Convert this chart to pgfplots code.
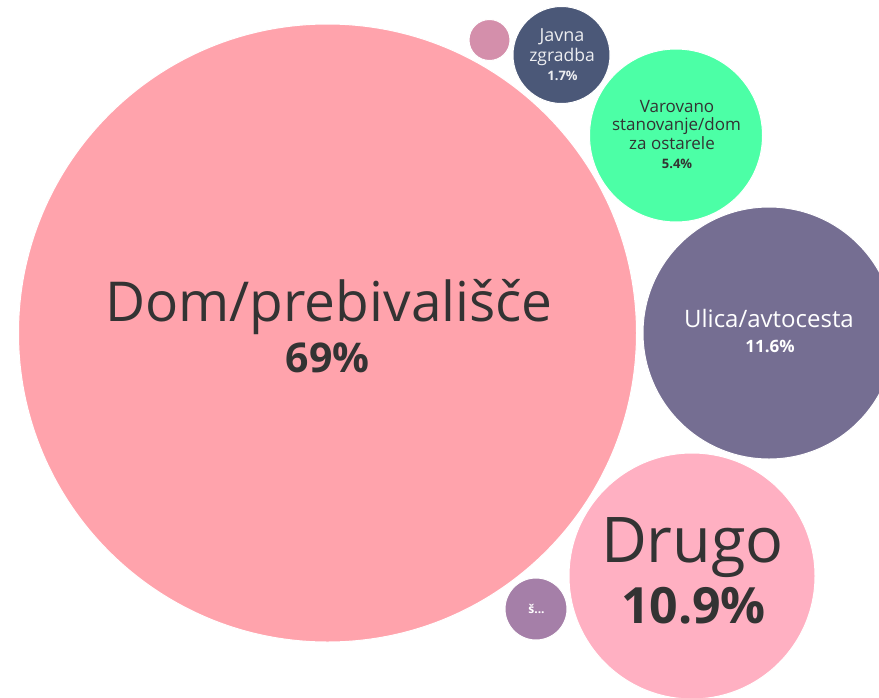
\documentclass[border=0pt]{standalone}
\usepackage{fontspec}
\setmainfont{Open Sans}
\usepackage{pgfplots}
\pgfplotsset{compat=1.18}
\definecolor{cDom}{HTML}{FFA3AC}
\definecolor{cDrugo}{HTML}{FFB0C2}
\definecolor{cUlica}{HTML}{756E92}
\definecolor{cVar}{HTML}{4CFFA6}
\definecolor{cJavna}{HTML}{4B5878}
\definecolor{cSmall}{HTML}{D48FAB}
\definecolor{cS}{HTML}{A57FA8}
\definecolor{txt}{HTML}{333333}
\pgfplotsset{bubble/.style={scatter, only marks, mark=*, point meta=\thisrow{r},
  scatter/use mapped color={draw=white, fill=#1},
  visualization depends on={\thisrow{r}\as\rad},
  scatter/@pre marker code/.append style={/tikz/mark size=\rad},
  line width=1pt}}
\newcommand{\fs}[1]{\fontsize{#1}{#1}\selectfont}
\begin{document}
\begin{tikzpicture}
\begin{axis}[width=879pt, height=697pt, scale only axis, hide axis,
  xmin=0, xmax=879, ymin=0, ymax=697, y dir=reverse, clip=true]
\addplot[bubble=cDom] table[row sep=\\]{x y r\\ 327.5 333 309\\};
\addplot[bubble=cUlica] table[row sep=\\]{x y r\\ 769 333 126\\};
\addplot[bubble=cDrugo] table[row sep=\\]{x y r\\ 692 576 123\\};
\addplot[bubble=cVar] table[row sep=\\]{x y r\\ 676 135.5 86.5\\};
\addplot[bubble=cJavna] table[row sep=\\]{x y r\\ 561.5 55 48.5\\};
\addplot[bubble=cSmall] table[row sep=\\]{x y r\\ 489.5 40 20.5\\};
\addplot[bubble=cS] table[row sep=\\]{x y r\\ 536 609 31\\};
% label anchors
\coordinate (l1) at (axis cs:329,322);
\coordinate (l2) at (axis cs:327.5,373);
\coordinate (l3) at (axis cs:692.5,562);
\coordinate (l4) at (axis cs:693.5,623);
\coordinate (l5) at (axis cs:769,328);
\coordinate (l6) at (axis cs:770,353);
\coordinate (l7) at (axis cs:562,42);
\coordinate (l8) at (axis cs:562,62);
\coordinate (l9) at (axis cs:562.5,81);
\coordinate (l10) at (axis cs:677,113);
\coordinate (l11) at (axis cs:676.5,131);
\coordinate (l12) at (axis cs:672,150);
\coordinate (l13) at (axis cs:677,169);
\coordinate (l14) at (axis cs:536.5,613);
\end{axis}
\begin{scope}[every node/.style={anchor=base, inner sep=0pt}]
\node[text=txt] at (l1) {\fs{55}Dom/prebivališče};
\node[text=txt] at (l2) {\fs{41}\bfseries 69\%};
\node[text=txt] at (l3) {\fs{63}Drugo};
\node[text=txt] at (l4) {\fs{50}\bfseries 10.9\%};
\node[text=white] at (l5) {\fs{24}Ulica/avtocesta};
\node[text=white] at (l6) {\fs{17}\bfseries 11.6\%};
\node[text=white!90!cJavna] at (l7) {\fs{18}Javna};
\node[text=white!90!cJavna] at (l8) {\fs{17.5}zgradba};
\node[text=white!90!cJavna] at (l9) {\fs{13}\bfseries 1.7\%};
\node[text=txt] at (l10) {\fs{17}Varovano};
\node[text=txt] at (l11) {\fs{17}stanovanje/dom};
\node[text=txt] at (l12) {\fs{17}za ostarele};
\node[text=txt] at (l13) {\fs{13}\bfseries 5.4\%};
\node[text=white] at (l14) {\fs{12}\bfseries š...};
\end{scope}
\pgfresetboundingbox
\useasboundingbox (current axis.south west) rectangle (current axis.north east);
\end{tikzpicture}
\end{document}
